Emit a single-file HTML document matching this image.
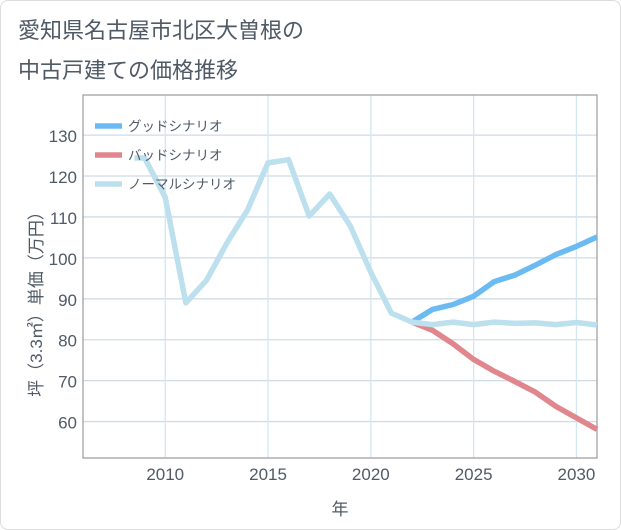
<!DOCTYPE html>
<html><head><meta charset="utf-8"><style>
body{margin:0;background:#fff;}
#wrap{position:relative;width:621px;height:530px;background:#fff;font-family:"Liberation Sans","Noto Sans CJK JP",sans-serif;}
#card{position:absolute;left:0;top:0;width:619px;height:528px;border:1px solid #ddd;border-radius:8px;}
svg{position:absolute;left:0;top:0;}
</style></head><body>
<div id="wrap">
<div id="card"></div>
<svg id="chart" width="621" height="530" xmlns="http://www.w3.org/2000/svg"></svg>
</div>
<script>
const years=[2008.5,2009,2010,2011,2012,2013,2014,2015,2016,2017,2018,2019,2020,2021,2022];
const normalPast=[124.4,124.4,114.8,89,94.5,103.6,111.7,123.2,124,110.2,115.6,107.8,96.5,86.5,84.3];
const futureYears=[2022,2023,2024,2025,2026,2027,2028,2029,2030,2031];
const goodVals=[84.3,87.4,88.6,90.6,94.2,95.8,98.2,100.8,102.8,105.1];
const badVals=[84.3,82.3,79,75.2,72.3,69.8,67.2,63.7,60.9,58.1];
const normalFuture=[84.3,83.7,84.3,83.7,84.3,84,84.1,83.7,84.2,83.6];
const yTicks=[60,70,80,90,100,110,120,130];
const xTicks=[2010,2015,2020,2025,2030];

const L=83,R=597,T=95,B=458;
const x=v=>L+(v-2006)/(2031-2006)*(R-L);
const y=v=>B-(v-51.1)/(139.8-51.1)*(B-T);
const svg=document.getElementById('chart');
const NS='http://www.w3.org/2000/svg';
function mk(t,a,txt){const e=document.createElementNS(NS,t);for(const k in a)e.setAttribute(k,a[k]);if(txt!=null)e.textContent=txt;svg.appendChild(e);return e;}

let e;
e=mk('text',{x:18,y:38,'font-size':22,fill:'#4f5a66'},'愛知県名古屋市北区大曽根の');


e=mk('text',{x:18,y:78,'font-size':22,fill:'#4f5a66'},'中古戸建ての価格推移');



yTicks.forEach(v=>{
 e=mk('line',{x1:L,x2:R,y1:y(v),y2:y(v),stroke:'#cfdbe5','stroke-width':1.3});
 
 
 e=mk('text',{x:L-6,y:y(v)+7,'font-size':17,fill:'#4f5a66','text-anchor':'end'},String(v));
 
 
});
xTicks.forEach(v=>{
 e=mk('line',{x1:x(v),x2:x(v),y1:T,y2:B,stroke:'#d3e6f2','stroke-width':1.3});
 
 
 e=mk('text',{x:x(v),y:480,'font-size':17,fill:'#4f5a66','text-anchor':'middle'},String(v));
 
 
});
e=mk('rect',{x:L,y:T,width:R-L,height:B-T,fill:'none',stroke:'#999','stroke-width':1.2});



e=mk('text',{x:340,y:515,'font-size':17,fill:'#4f5a66','text-anchor':'middle'},'年');


e=mk('text',{x:0,y:0,'font-size':17,fill:'#4f5a66','text-anchor':'middle',transform:'translate(42,300) rotate(-90)'},'坪（3.3㎡）単価（万円）');



function line(xs,vs,color,name){
 const d=xs.map((xv,i)=>(i?'L':'M')+x(xv).toFixed(1)+' '+y(vs[i]).toFixed(1)).join(' ');
 const p=mk('path',{d:d,fill:'none',stroke:color,'stroke-width':5.5,'stroke-linejoin':'round'});
 
 
}
line(futureYears,goodVals,'#6bbbf2','good-scenario-line');
line(futureYears,badVals,'#e0868d','bad-scenario-line');
line(years.concat(futureYears.slice(1)),normalPast.concat(normalFuture.slice(1)),'#bde0ee','normal-scenario-line');

const legend=[['グッドシナリオ','#6bbbf2'],['バッドシナリオ','#e0868d'],['ノーマルシナリオ','#bde0ee']];
legend.forEach((l,i)=>{
 const ly=126+i*29;
 e=mk('line',{x1:95,x2:122,y1:ly,y2:ly,stroke:l[1],'stroke-width':5.5});
 
 
 e=mk('text',{x:128,y:ly+5,'font-size':13.5,fill:'#4f5a66'},l[0]);
 
 
});
</script>
</body></html>
